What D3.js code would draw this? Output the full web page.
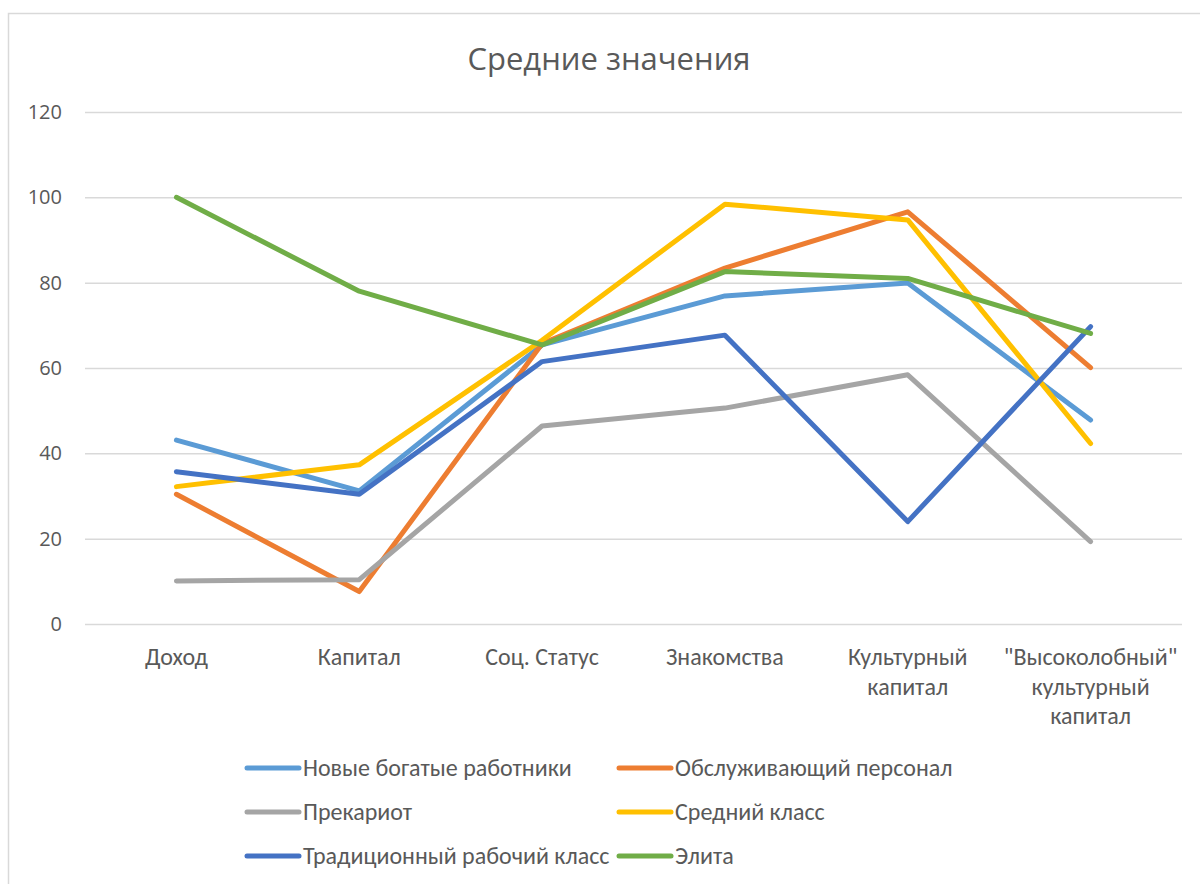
<!DOCTYPE html>
<html>

<head>
    <title>Средние значения</title>
    <script src="https://d3js.org/d3.v7.min.js"></script>
    <style>
        body {
            margin: 0;
            background: #fff;
        }

        text {
            font-family: Carlito, Calibri, "Open Sans", sans-serif;
            fill: #595959;
        }
    </style>
</head>

<body>
    <div id="svg"></div>
    <script>
        // categories on the x axis (multi-line labels split by "|")
        var categories = ["Доход", "Капитал", "Соц. Статус", "Знакомства", "Культурный|капитал", "\"Высоколобный\"|культурный|капитал"];
        var yTicks = [0, 20, 40, 60, 80, 100, 120];

        var seriesNames = ["Новые богатые работники", "Обслуживающий персонал", "Прекариот", "Средний класс", "Традиционный рабочий класс", "Элита"];
        var seriesColors = ["#5B9BD5", "#ED7D31", "#A5A5A5", "#FFC000", "#4472C4", "#70AD47"];

        var novyeBogatye = [43.1, 31.2, 65.4, 76.9, 79.9, 47.8];
        var obsluzhivayushchiy = [30.4, 7.6, 65.7, 83.4, 96.6, 60.1];
        var prekariot = [10.1, 10.4, 46.4, 50.6, 58.4, 19.3];
        var sredniy = [32.2, 37.3, 66.5, 98.4, 94.7, 42.3];
        var traditsionnyy = [35.7, 30.4, 61.5, 67.7, 24.0, 69.7];
        var elita = [100, 78.0, 65.4, 82.6, 81.0, 68.1];

        var seriesValues = [novyeBogatye, obsluzhivayushchiy, prekariot, sredniy, traditsionnyy, elita];

        var W = 1200, H = 884;
        var plot = { left: 85, right: 1182, top: 112, bottom: 624 };

        var svg = d3.select("#svg")
            .append("svg")
            .attr("width", W)
            .attr("height", H);

        // chart border (runs off the right and bottom edges)
        svg.append("rect")
            .attr("x", 8.5).attr("y", 13.5)
            .attr("width", W + 20).attr("height", H + 20)
            .style("fill", "#fff")
            .style("stroke", "#D9D9D9")
            .style("stroke-width", 1.5);

        svg.append("text")
            .attr("x", 609).attr("y", 70)
            .attr("text-anchor", "middle")
            .style("font-family", "'Open Sans', sans-serif")
            .style("font-size", "31px")
            .text("Средние значения");

        var x = d3.scaleBand()
            .domain(categories)
            .range([plot.left, plot.right]);

        var y = d3.scaleLinear()
            .domain([0, 120])
            .range([plot.bottom, plot.top]);

        // gridlines + y labels
        var yAxis = svg.append("g")
            .attr("transform", "translate(" + plot.left + ",0)")
            .call(d3.axisLeft(y).tickValues(yTicks).tickSize(-(plot.right - plot.left)).tickPadding(23));
        yAxis.select(".domain").remove();
        yAxis.selectAll(".tick line").style("stroke", "#D9D9D9").style("stroke-width", 1.5);
        yAxis.selectAll(".tick text")
            .style("font-size", "20px")
            .style("font-family", "'Open Sans', sans-serif")
            .style("fill", "#595959");

        // x labels
        var xLabels = svg.append("g");
        categories.forEach(function (c) {
            var t = xLabels.append("text")
                .attr("x", x(c) + x.bandwidth() / 2)
                .attr("y", 665)
                .attr("text-anchor", "middle")
                .style("font-size", "24px");
            c.split("|").forEach(function (part, i) {
                t.append("tspan")
                    .attr("x", x(c) + x.bandwidth() / 2)
                    .attr("dy", i == 0 ? 0 : 29.5)
                    .text(part);
            });
        });

        var line = d3.line()
            .x(function (d, i) { return x(categories[i]) + x.bandwidth() / 2; })
            .y(function (d) { return y(d); });

        svg.selectAll("myPath")
            .data(seriesValues)
            .enter()
            .append("path")
            .attr("d", line)
            .style("fill", "none")
            .style("stroke", function (d, i) { return seriesColors[i]; })
            .style("stroke-width", 5)
            .style("stroke-linecap", "round")
            .style("stroke-linejoin", "round");

        // legend, two columns
        var legend = svg.selectAll("myLegend")
            .data(seriesNames)
            .enter()
            .append("g")
            .attr("transform", function (d, i) {
                return "translate(" + (i % 2 == 0 ? 245 : 617) + "," + (768 + Math.floor(i / 2) * 44) + ")";
            });
        legend.append("line")
            .attr("x1", 2).attr("x2", 54)
            .attr("y1", 0).attr("y2", 0)
            .style("stroke", function (d, i) { return seriesColors[i]; })
            .style("stroke-width", 5)
            .style("stroke-linecap", "round");
        legend.append("text")
            .attr("x", 58).attr("y", 0)
            .attr("dy", "0.35em")
            .style("font-size", "24px")
            .text(function (d) { return d; });
    </script>

</body>

</html>
